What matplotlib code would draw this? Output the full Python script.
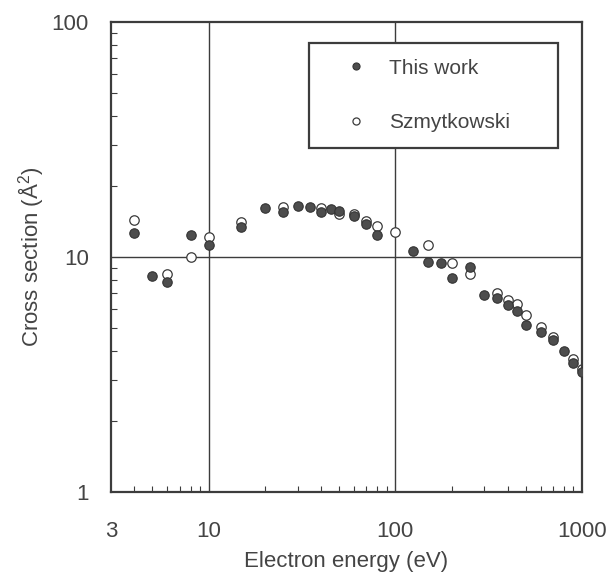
import matplotlib
matplotlib.use("Agg")
import matplotlib.pyplot as plt
from matplotlib.ticker import LogLocator, NullFormatter, FixedLocator, FixedFormatter

plt.rcParams['font.family'] = ['Liberation Sans', 'DejaVu Sans']
plt.rcParams['mathtext.fontset'] = 'custom'
plt.rcParams['mathtext.rm'] = 'Liberation Sans'
plt.rcParams['mathtext.default'] = 'regular'

# This work (filled circles)
this_energy = [4, 5, 6, 8, 10, 15, 20, 25, 30, 35, 40, 45, 50, 60, 70, 80,
               125, 150, 175, 200, 250, 300, 350, 400, 450, 500, 600, 700, 800, 900, 1000]
this_cs = [12.6, 8.33, 7.85, 12.4, 11.25, 13.4, 16.1, 15.5, 16.5, 16.4, 15.6, 16.0, 15.7, 15.0, 13.8, 12.4,
           10.6, 9.49, 9.4, 8.17, 9.04, 6.89, 6.67, 6.25, 5.91, 5.14, 4.81, 4.43, 3.97, 3.53, 3.23]

# Szmytkowski (open circles)
sz_energy = [4, 6, 8, 10, 15, 25, 40, 50, 60, 70, 80, 100, 150, 200, 250,
             350, 400, 450, 500, 600, 700, 900, 1000]
sz_cs = [14.4, 8.5, 10.0, 12.2, 14.1, 16.3, 16.1, 15.3, 15.3, 14.2, 13.6, 12.8, 11.25, 9.4, 8.47,
         7.01, 6.56, 6.29, 5.68, 5.06, 4.57, 3.67, 3.34]

x_ticks = [3, 10, 100, 1000]
x_ticklabels = ['3', '10', '100', '1000']
y_ticks = [1, 10, 100]
y_ticklabels = ['1', '10', '100']

dark = '#3c3c3c'
txt = '#444444'

fig = plt.figure(figsize=(6.11, 5.75), dpi=100)
ax = fig.add_axes([111/611, 1 - 492/575, 471/611, 470/575])
ax.set_xscale('log')
ax.set_yscale('log')
ax.set_xlim(3, 1000)
ax.set_ylim(1, 100)

# grid lines at decades
for xv in [10, 100]:
    ax.axvline(xv, color=dark, lw=1.0, zorder=1)
ax.axhline(10, color=dark, lw=1.0, zorder=1)

ax.plot(this_energy, this_cs, 'o', ms=6.8, mfc='#4d4d4d', mec='#333333', mew=0.8,
        label='This work', zorder=3)
ax.plot(sz_energy, sz_cs, 'o', ms=6.8, mfc='white', mec='#3a3a3a', mew=0.9,
        label='Szmytkowski', zorder=2)

ax.xaxis.set_major_locator(FixedLocator(x_ticks))
ax.xaxis.set_major_formatter(FixedFormatter(x_ticklabels))
ax.yaxis.set_major_locator(FixedLocator(y_ticks))
ax.yaxis.set_major_formatter(FixedFormatter(y_ticklabels))
ax.xaxis.set_minor_locator(LogLocator(base=10, subs=range(2, 10)))
ax.yaxis.set_minor_locator(LogLocator(base=10, subs=range(2, 10)))
ax.xaxis.set_minor_formatter(NullFormatter())
ax.yaxis.set_minor_formatter(NullFormatter())

ax.tick_params(axis='both', which='major', length=0, labelsize=16, colors=txt)
ax.tick_params(axis='x', which='major', pad=21)
ax.tick_params(axis='y', which='major', pad=16)
ax.tick_params(axis='both', which='minor', direction='in', length=4.5, width=0.8, color=dark)
ax.tick_params(top=False, right=False, which='both')

for s in ax.spines.values():
    s.set_color(dark)
    s.set_linewidth(1.6)

ax.set_xlabel('Electron energy (eV)', fontsize=16, color=txt, labelpad=6)
ax.set_ylabel('Cross section (Å$^2$)', fontsize=16, color=txt, labelpad=4)

leg = ax.legend(loc='upper left', bbox_to_anchor=(0.42, 0.0, 0.529, 0.955), mode='expand',
                frameon=True, fancybox=False, fontsize=15, handlelength=3.0,
                handletextpad=0.1, borderpad=0.75, labelspacing=1.7, markerscale=0.75,
                borderaxespad=0.0)
leg.get_frame().set_edgecolor(dark)
leg.get_frame().set_linewidth(1.6)
leg.get_frame().set_alpha(1.0)
for t in leg.get_texts():
    t.set_color(txt)
leg.set_zorder(5)

fig.savefig('out.png', dpi=100)
